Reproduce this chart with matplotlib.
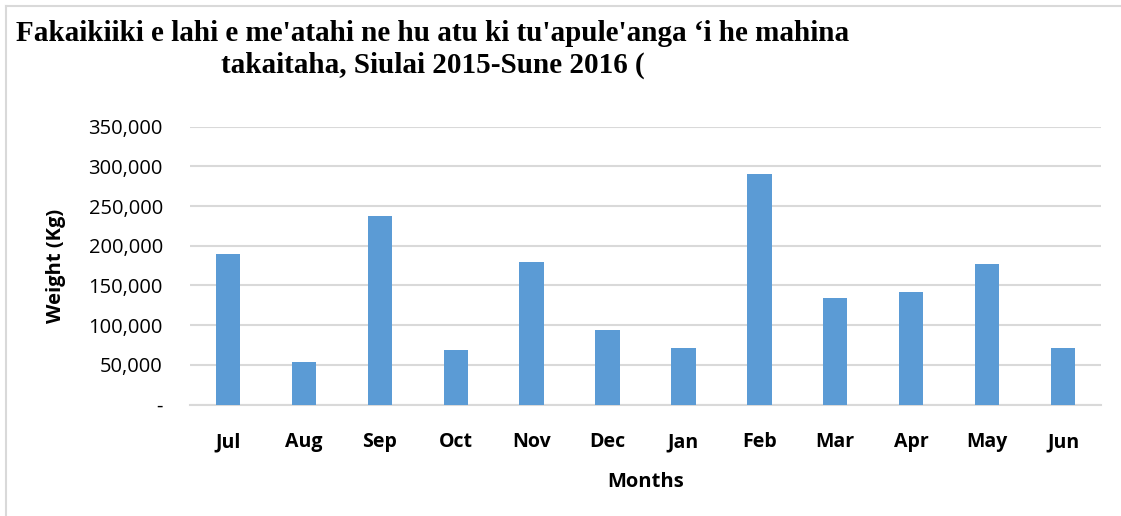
import matplotlib.pyplot as plt
from matplotlib.ticker import FuncFormatter
from matplotlib.lines import Line2D

months = ['Jul', 'Aug', 'Sep', 'Oct', 'Nov', 'Dec', 'Jan', 'Feb', 'Mar', 'Apr', 'May', 'Jun']
weight_kg = [190000, 53600, 238000, 68800, 179900, 94000, 71300, 291000, 134500, 142000, 177400, 71300]
y_ticks = [0, 50000, 100000, 150000, 200000, 250000, 300000, 350000]

title = "Fakaikiiki e lahi e me'atahi ne hu atu ki tu'apule'anga \u2018i he mahina\ntakaitaha, Siulai 2015-Sune 2016 ("

W, H = 1121, 516
fig = plt.figure(figsize=(W / 100, H / 100), dpi=100)
ax = fig.add_axes([190 / W, 1 - 404.5 / H, (1101 - 190) / W, (404.5 - 126.7) / H])

grid_col = '#d9d9d9'
ax.bar(range(len(months)), weight_kg, width=0.32, color='#5b9bd5', zorder=3)
ax.set_xlim(-0.5, len(months) - 0.5)
ax.set_ylim(0, 350000)
ax.set_yticks(y_ticks)
ax.yaxis.set_major_formatter(FuncFormatter(lambda v, p: '-' if v == 0 else f'{int(v):,}'))
ax.set_xticks(range(len(months)))
ax.set_xticklabels(months, fontfamily='Open Sans', fontweight='bold', fontsize=14)
for lab in ax.get_yticklabels():
    lab.set_fontfamily('Open Sans')
    lab.set_fontsize(14.5)
ax.tick_params(length=0)
ax.tick_params(axis='y', pad=19.5)
ax.tick_params(axis='x', pad=20)
ax.grid(axis='y', color=grid_col, linewidth=1.5, zorder=0)
for s in ['top', 'right', 'left']:
    ax.spines[s].set_visible(False)
ax.spines['bottom'].set_color(grid_col)
ax.spines['bottom'].set_linewidth(1.5)

ax.set_ylabel('Weight (Kg)', fontfamily='Open Sans', fontweight='bold', fontsize=14.5)
ax.yaxis.set_label_coords((66 - 190) / (1101 - 190), 0.5)
ax.set_xlabel('Months', fontfamily='Open Sans', fontweight='bold', fontsize=14.5)
ax.xaxis.set_label_coords(0.5, -(472 - 404.5) / (404.5 - 126.7))

fig.text(433 / W, 1 - 20 / H, title, ha='center', va='top', fontfamily='Liberation Serif',
         fontweight='bold', fontsize=21, linespacing=1.2)

# chart frame (left and top edges)
fig.add_artist(Line2D([6 / W, 6 / W], [0, 1 - 5.5 / H], color=grid_col, lw=1.5, transform=fig.transFigure))
fig.add_artist(Line2D([6 / W, 1], [1 - 5.5 / H, 1 - 5.5 / H], color=grid_col, lw=1.5, transform=fig.transFigure))

fig.savefig('out.png', dpi=100)
